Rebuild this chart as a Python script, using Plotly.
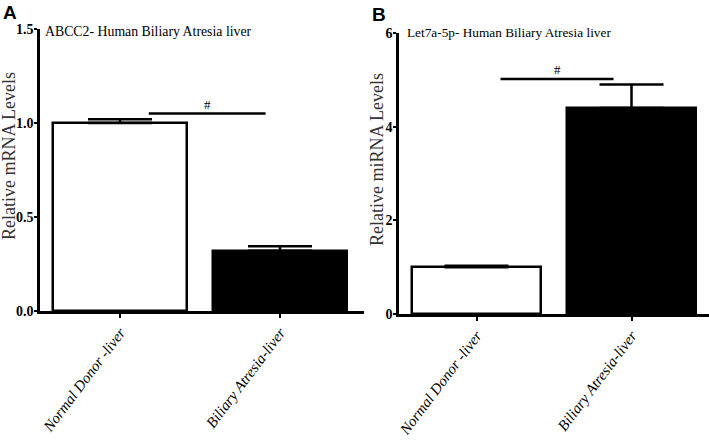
import plotly.graph_objects as go

W, H = 709, 441

# ---- data ----
categories = ["Normal Donor -liver", "Biliary Atresia-liver"]
abcc2_values = [1.0, 0.32]
abcc2_errors = [0.02, 0.025]
let7a_values = [1.0, 4.40]
let7a_errors = [0.03, 0.50]
abcc2_sig_x = [0.18, 0.91]
abcc2_sig_y = 1.05
let7a_sig_x = [0.155, 0.884]
let7a_sig_y = 5.02
abcc2_ticks = [0, 0.5, 1.0, 1.5]
abcc2_ticklabels = ["0.0", "0.5", "1.0", "1.5"]
let7a_ticks = [0, 2, 4, 6]
let7a_ticklabels = ["0", "2", "4", "6"]
bar_colors = ["white", "black"]

SERIF = "Liberation Serif"

def px(x):
    return x / W

def py(y):
    return 1 - y / H

fig = go.Figure()

for vals, errs, xa, ya in [(abcc2_values, abcc2_errors, "x", "y"),
                           (let7a_values, let7a_errors, "x2", "y2")]:
    fig.add_trace(go.Bar(
        x=[0, 1], y=vals, xaxis=xa, yaxis=ya,
        width=0.835,
        marker=dict(color=bar_colors, line=dict(color="black", width=2.5)),
        error_y=dict(type="data", symmetric=False, array=errs,
                     arrayminus=[0, 0], color="black", thickness=2.5, width=32),
        showlegend=False, hoverinfo="skip",
    ))

tickfont_y = dict(family=SERIF, size=14, color="black", weight="bold")
tickfont_x = dict(family=SERIF, size=15, color="black", style="italic")

common_x = dict(showline=True, linecolor="black", linewidth=2.5, ticks="outside",
                ticklen=4, tickwidth=2, tickcolor="black", tickmode="array",
                tickvals=[0, 1], ticktext=categories, tickangle=-53,
                tickfont=tickfont_x, showgrid=False, zeroline=False, fixedrange=True,
                automargin=False)
common_y = dict(showline=True, linecolor="black", linewidth=2.5, ticks="outside",
                ticklen=3, tickwidth=2, tickcolor="black", tickmode="array",
                ticklabelstandoff=-2,
                tickfont=tickfont_y, showgrid=False, zeroline=False, fixedrange=True,
                automargin=False)

fig.update_layout(
    template="none",
    width=W, height=H,
    margin=dict(l=0, r=0, t=0, b=0, pad=0),
    paper_bgcolor="white", plot_bgcolor="white",
    bargap=0,
    xaxis=dict(domain=[px(40), px(364)], range=[-0.5, 1.525], anchor="y", **common_x),
    yaxis=dict(domain=[py(311), py(29)], range=[0, 1.5], anchor="x",
               tickvals=abcc2_ticks, ticktext=abcc2_ticklabels, **common_y),
    xaxis2=dict(domain=[px(399), px(709)], range=[-0.5, 1.5], anchor="y2", **common_x),
    yaxis2=dict(domain=[py(314), py(33)], range=[0, 6], anchor="x2",
                tickvals=let7a_ticks, ticktext=let7a_ticklabels, **common_y),
)

# significance lines
fig.add_shape(type="line", xref="x", yref="y", x0=abcc2_sig_x[0], x1=abcc2_sig_x[1],
              y0=abcc2_sig_y, y1=abcc2_sig_y, line=dict(color="black", width=2.5))
fig.add_shape(type="line", xref="x2", yref="y2", x0=let7a_sig_x[0], x1=let7a_sig_x[1],
              y0=let7a_sig_y, y1=let7a_sig_y, line=dict(color="black", width=2.5))
fig.add_annotation(xref="x", yref="y", x=sum(abcc2_sig_x) / 2, y=abcc2_sig_y,
                   text="#", showarrow=False, yanchor="bottom", yshift=0,
                   font=dict(family=SERIF, size=13, color="black"))
fig.add_annotation(xref="x2", yref="y2", x=sum(let7a_sig_x) / 2, y=let7a_sig_y,
                   text="#", showarrow=False, yanchor="bottom", yshift=0,
                   font=dict(family=SERIF, size=13, color="black"))

# panel titles
fig.add_annotation(xref="paper", yref="paper", x=px(43), y=py(31), text="ABCC2- Human Biliary Atresia liver",
                   showarrow=False, xanchor="left", yanchor="middle",
                   font=dict(family=SERIF, size=13.8, color="black"))
fig.add_annotation(xref="paper", yref="paper", x=px(405), y=py(33), text="Let7a-5p- Human Biliary Atresia liver",
                   showarrow=False, xanchor="left", yanchor="middle",
                   font=dict(family=SERIF, size=13.3, color="black"))

# y-axis titles
fig.add_annotation(xref="paper", yref="paper", x=px(9), y=py(156), text="Relative mRNA Levels",
                   showarrow=False, textangle=-90, xanchor="center", yanchor="middle",
                   font=dict(family=SERIF, size=18, color="#333"))
fig.add_annotation(xref="paper", yref="paper", x=px(377), y=py(159), text="Relative miRNA Levels",
                   showarrow=False, textangle=-90, xanchor="center", yanchor="middle",
                   font=dict(family=SERIF, size=18, color="#333"))

# panel letters
fig.add_annotation(xref="paper", yref="paper", x=px(10), y=py(12), text="A",
                   showarrow=False, xanchor="center", yanchor="middle",
                   font=dict(family="Liberation Sans", size=19, color="black", weight="bold"))
fig.add_annotation(xref="paper", yref="paper", x=px(379), y=py(14), text="B",
                   showarrow=False, xanchor="center", yanchor="middle",
                   font=dict(family="Liberation Sans", size=19, color="black", weight="bold"))

fig.write_html("out.html", config={"displayModeBar": False},
               post_script="document.body.style.margin='0';")
